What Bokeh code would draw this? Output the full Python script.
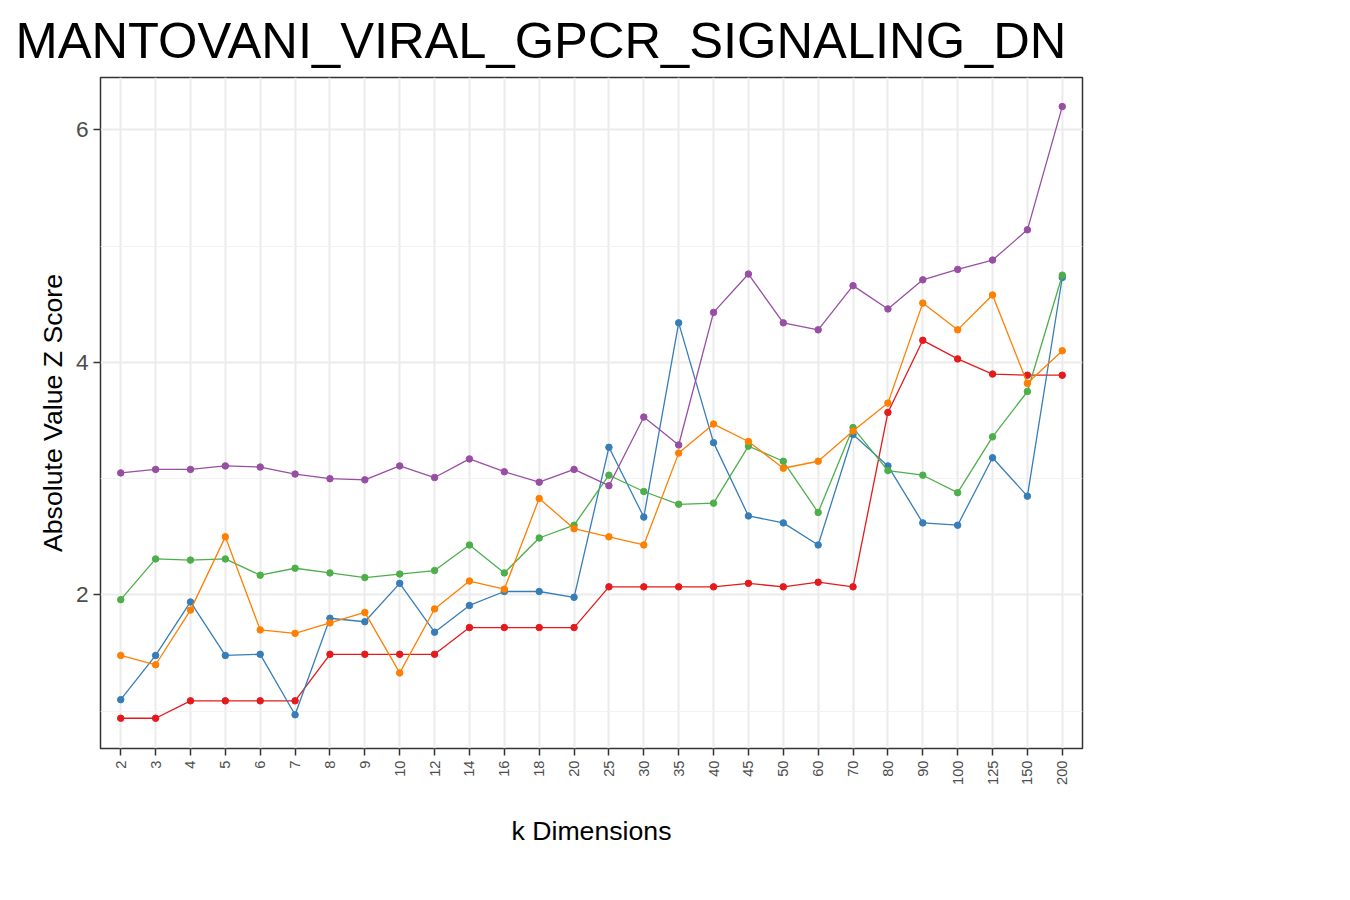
from bokeh.plotting import figure
from bokeh.models import FactorRange, Range1d, Legend, LegendItem, FixedTicker
from bokeh.embed import file_html
from bokeh.resources import INLINE

dims = ['2', '3', '4', '5', '6', '7', '8', '9', '10', '12', '14', '16', '18', '20', '25',
        '30', '35', '40', '45', '50', '60', '70', '80', '90', '100', '125', '150', '200']

pca = [0.94, 0.94, 1.09, 1.09, 1.09, 1.09, 1.49, 1.49, 1.49, 1.49, 1.72, 1.72, 1.72, 1.72,
       2.07, 2.07, 2.07, 2.07, 2.10, 2.07, 2.11, 2.07, 3.57, 4.19, 4.03, 3.90, 3.89, 3.89]
ica = [1.10, 1.48, 1.94, 1.48, 1.49, 0.97, 1.80, 1.77, 2.10, 1.68, 1.91, 2.03, 2.03, 1.98,
       3.27, 2.67, 4.34, 3.31, 2.68, 2.62, 2.43, 3.38, 3.11, 2.62, 2.60, 3.18, 2.85, 4.73]
nmf = [1.96, 2.31, 2.30, 2.31, 2.17, 2.23, 2.19, 2.15, 2.18, 2.21, 2.43, 2.19, 2.49, 2.60,
       3.03, 2.89, 2.78, 2.79, 3.28, 3.15, 2.71, 3.44, 3.07, 3.03, 2.88, 3.36, 3.75, 4.75]
dae = [3.05, 3.08, 3.08, 3.11, 3.10, 3.04, 3.00, 2.99, 3.11, 3.01, 3.17, 3.06, 2.97, 3.08,
       2.94, 3.53, 3.29, 4.43, 4.76, 4.34, 4.28, 4.66, 4.46, 4.71, 4.80, 4.88, 5.14, 6.20]
vae = [1.48, 1.40, 1.87, 2.50, 1.70, 1.67, 1.76, 1.85, 1.33, 1.88, 2.12, 2.05, 2.83, 2.57,
       2.50, 2.43, 3.22, 3.47, 3.32, 3.09, 3.15, 3.41, 3.65, 4.51, 4.28, 4.58, 3.82, 4.10]

series = [('PCA', pca, '#e41a1c'), ('ICA', ica, '#377eb8'), ('NMF', nmf, '#4daf4a'),
          ('DAE', dae, '#984ea3'), ('VAE', vae, '#ff7f00')]

FONT = 'Liberation Sans'

p = figure(frame_width=982, frame_height=671,
           x_range=FactorRange(*dims), y_range=Range1d(0.68, 6.45),
           output_backend='svg', toolbar_location=None,
           title='MANTOVANI_VIRAL_GPCR_SIGNALING_DN',
           min_border_left=100, min_border_top=20, min_border_bottom=20,
           min_border_right=10)
p.x_range.range_padding = 0.08
p.x_range.range_padding_units = 'absolute'

p.title.text_font = FONT
p.title.text_font_size = '38pt'
p.title.text_font_style = 'normal'
p.title.text_color = 'black'
p.title.offset = -85
p.title.standoff = 18

p.outline_line_color = '#333333'
p.outline_line_width = 1.5
p.background_fill_color = 'white'

p.xgrid.grid_line_color = '#ebebeb'
p.xgrid.grid_line_width = 2
p.ygrid.grid_line_color = '#ebebeb'
p.ygrid.grid_line_width = 2
p.ygrid.minor_grid_line_color = '#f2f2f2'
p.ygrid.minor_grid_line_width = 1

p.yaxis.ticker = FixedTicker(ticks=[2, 4, 6], minor_ticks=[1, 3, 5])
p.yaxis.minor_tick_line_color = None
p.yaxis.major_label_text_font_size = '17pt'
p.yaxis.major_label_text_color = '#4d4d4d'
p.yaxis.axis_label = 'Absolute Value Z Score'
p.yaxis.axis_label_text_font_size = '20pt'
p.yaxis.axis_label_text_font_style = 'normal'
p.yaxis.axis_label_text_color = 'black'

p.xaxis.major_label_orientation = 1.5708
p.xaxis.major_label_text_font_size = '11pt'
p.xaxis.major_label_text_color = '#4d4d4d'
p.xaxis.axis_label = 'k Dimensions'
p.xaxis.axis_label_text_font_size = '20pt'
p.xaxis.axis_label_text_font_style = 'normal'
p.xaxis.axis_label_text_color = 'black'
p.xaxis.axis_label_standoff = 28

for ax in (p.xaxis, p.yaxis):
    ax.axis_line_color = None
    ax.major_tick_line_color = '#333333'
    ax.major_tick_line_width = 1.5
    ax.major_tick_out = 7
    ax.major_tick_in = 0
    ax.major_label_text_font = FONT
    ax.axis_label_text_font = FONT

items = []
for name, vals, col in series:
    r1 = p.line(dims, vals, line_color=col, line_width=1.3)
    r2 = p.scatter(dims, vals, size=6.5, fill_color=col, line_color=col)
    items.append(LegendItem(label=name, renderers=[r1, r2]))

legend = Legend(items=items, title='Algorithm', location='center')
legend.title_text_font = FONT
legend.title_text_font_size = '20pt'
legend.title_text_font_style = 'normal'
legend.label_text_font = FONT
legend.label_text_font_size = '18pt'
legend.border_line_color = None
legend.spacing = 6
legend.label_height = 36
legend.glyph_height = 36
legend.glyph_width = 36
legend.margin = 50
legend.padding = 10
p.add_layout(legend, 'right')

open('out.html', 'w').write(file_html(p, INLINE))
